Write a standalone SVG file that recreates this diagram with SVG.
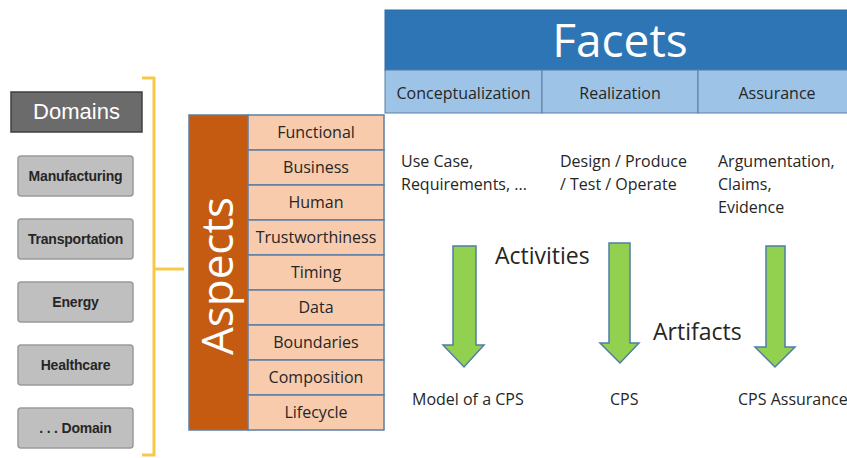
<svg xmlns="http://www.w3.org/2000/svg" width="847" height="458" viewBox="0 0 847 458">
<style>
.dom rect{fill:#bfbfbf;stroke:#9a9a9a;stroke-width:1.5}
.dom text{font-family:"Liberation Sans",Arial,sans-serif;font-size:14px;font-weight:bold;fill:#262626;text-anchor:middle;letter-spacing:-0.2px}
.asp rect{fill:#f8cbad;stroke:#5b7fa6;stroke-width:1.5}
.t{font-family:"Open Sans","Noto Sans",sans-serif;font-size:16px;fill:#262626}
.big{font-size:23px}
.c{text-anchor:middle}
.arrow{fill:#92d050;stroke:#4f7ea8;stroke-width:1.5;stroke-linejoin:miter}
</style>

<g id="bracket" fill="none" stroke="#f7c948" stroke-width="3">
<polyline points="142,78 154,78 154,455 142,455"/>
<line x1="154" y1="269" x2="184" y2="269"/>
</g>

<g id="domains-header">
<rect x="11" y="92" width="131" height="40" fill="#6b6b6b" stroke="#3f3f3f" stroke-width="1.5"/>
<text x="76.5" y="119" font-family="Liberation Sans,Arial,sans-serif" font-size="22" fill="#ffffff" text-anchor="middle">Domains</text>
</g>
<g id="manufacturing" class="dom"><rect x="18" y="156" width="115" height="40" rx="3"/><text x="75.5" y="181">Manufacturing</text></g>
<g id="transportation" class="dom"><rect x="18" y="219" width="115" height="40" rx="3"/><text x="75.5" y="244">Transportation</text></g>
<g id="energy" class="dom"><rect x="18" y="282" width="115" height="40" rx="3"/><text x="75.5" y="307">Energy</text></g>
<g id="healthcare" class="dom"><rect x="18" y="345" width="115" height="40" rx="3"/><text x="75.5" y="370">Healthcare</text></g>
<g id="domain-more" class="dom"><rect x="18" y="408" width="115" height="40" rx="3"/><text x="75.5" y="433">. . . Domain</text></g>

<g id="aspects">
<rect x="189" y="115" width="59" height="315" fill="#c55a11" stroke="#5b7fa6" stroke-width="1.5"/>
<text transform="translate(233,276) rotate(-90)" font-family="Open Sans,Noto Sans,sans-serif" font-size="44" fill="#ffffff" text-anchor="middle">Aspects</text>
</g>
<g id="aspect-rows" class="asp">
<g id="functional"><rect x="248" y="115" width="136" height="35"/><text class="t c" x="316" y="138">Functional</text></g>
<g id="business"><rect x="248" y="150" width="136" height="35"/><text class="t c" x="316" y="173">Business</text></g>
<g id="human"><rect x="248" y="185" width="136" height="35"/><text class="t c" x="316" y="208">Human</text></g>
<g id="trustworthiness"><rect x="248" y="220" width="136" height="35"/><text class="t c" x="316" y="243">Trustworthiness</text></g>
<g id="timing"><rect x="248" y="255" width="136" height="35"/><text class="t c" x="316" y="278">Timing</text></g>
<g id="data"><rect x="248" y="290" width="136" height="35"/><text class="t c" x="316" y="313">Data</text></g>
<g id="boundaries"><rect x="248" y="325" width="136" height="35"/><text class="t c" x="316" y="348">Boundaries</text></g>
<g id="composition"><rect x="248" y="360" width="136" height="35"/><text class="t c" x="316" y="383">Composition</text></g>
<g id="lifecycle"><rect x="248" y="395" width="136" height="35"/><text class="t c" x="316" y="418">Lifecycle</text></g>
</g>

<g id="facets">
<rect x="385" y="10" width="470" height="60" fill="#2e75b6" stroke="#2e6aa3" stroke-width="1"/>
<text x="620" y="57" font-family="Open Sans,Noto Sans,sans-serif" font-size="46" fill="#ffffff" text-anchor="middle">Facets</text>
</g>
<g id="conceptualization"><rect x="385" y="70" width="157" height="43" fill="#9dc3e6" stroke="#5b7fa6" stroke-width="1"/><text class="t c" x="463.5" y="99">Conceptualization</text></g>
<g id="realization"><rect x="542" y="70" width="156" height="43" fill="#9dc3e6" stroke="#5b7fa6" stroke-width="1"/><text class="t c" x="620" y="99">Realization</text></g>
<g id="assurance"><rect x="698" y="70" width="157" height="43" fill="#9dc3e6" stroke="#5b7fa6" stroke-width="1"/><text class="t c" x="777" y="99">Assurance</text></g>

<g id="activity-texts">
<text class="t" x="401" y="167">Use Case,</text>
<text class="t" x="401" y="190">Requirements, ...</text>
<text class="t" x="560" y="167">Design / Produce</text>
<text class="t" x="560" y="190">/ Test / Operate</text>
<text class="t" x="718" y="167">Argumentation,</text>
<text class="t" x="718" y="190">Claims,</text>
<text class="t" x="718" y="213">Evidence</text>
</g>

<g id="connectors">
<polygon class="arrow" points="453,246 476,246 476,345 484,345 464,367 443,345 453,345"/>
<polygon class="arrow" points="609,243 630,243 630,343 639,343 620,363 600,343 609,343"/>
<polygon class="arrow" points="766,246 785,246 785,347 795,347 775,367 755,347 766,347"/>
</g>

<g id="labels">
<text class="t big" x="495" y="264">Activities</text>
<text class="t big" x="653" y="340">Artifacts</text>
</g>

<g id="outputs">
<text class="t" x="412" y="405">Model of a CPS</text>
<text class="t" x="610" y="405">CPS</text>
<text class="t" x="738" y="405">CPS Assurance</text>
</g>
</svg>
